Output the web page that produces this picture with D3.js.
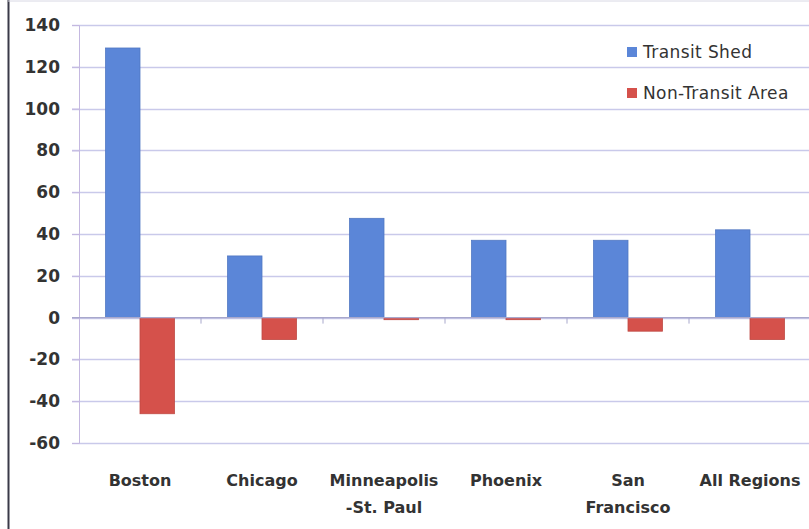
<!DOCTYPE html>
<html lang="en">
<head>
<meta charset="UTF-8">
<title>Transit Shed vs Non-Transit Area</title>
<style>
  body { margin: 0; background: #fff; }
  svg { display: block; }
  .tick text { font-family: "DejaVu Sans", sans-serif; }
</style>
</head>
<body>
<script src="https://d3js.org/d3.v7.min.js"></script>
<script>
  // data
  let regions = ["Boston", "Chicago", "Minneapolis\n-St. Paul", "Phoenix", "San\nFrancisco", "All Regions"];
  let seriesNames = ["Transit Shed", "Non-Transit Area"];
  let transitShed = [129, 29.5, 47.5, 37, 37, 42];
  let nonTransit = [-46, -10.5, -1, -1, -6.5, -10.5];
  let yTicks = [-60, -40, -20, 0, 20, 40, 60, 80, 100, 120, 140];
  let colors = ["#5b86d8", "#d5514b"];

  let W = 809, H = 529;
  let m = { t: 25, b: 86, l: 79, r: -2 };

  let svg = d3.select('body').append('svg')
    .attr('width', W)
    .attr('height', H);

  // frame line on the left
  svg.append('line')
    .attr('x1', 8.5).attr('x2', 8.5).attr('y1', 0).attr('y2', H)
    .attr('stroke', '#3a3a48').attr('stroke-width', 2);
  svg.append('line')
    .attr('x1', 8).attr('x2', W).attr('y1', 1).attr('y2', 1)
    .attr('stroke', '#d8d8e4').attr('stroke-width', 1);

  let x = d3.scaleBand()
    .domain(regions)
    .range([m.l, W - m.r])
    .padding(0);

  let xs = d3.scaleBand()
    .domain(seriesNames)
    .range([0, x.bandwidth()])
    .paddingInner(0)
    .paddingOuter(0.77);

  let y = d3.scaleLinear()
    .domain([-60, 140])
    .range([H - m.b, m.t]);

  // gridlines
  svg.append('g')
    .selectAll('line')
    .data(yTicks)
    .enter().append('line')
    .attr('x1', m.l - 7)
    .attr('x2', W)
    .attr('y1', d => Math.round(y(d)) + 0.5)
    .attr('y2', d => Math.round(y(d)) + 0.5)
    .attr('stroke', '#c9c9ea')
    .attr('stroke-width', 1.3);

  // y axis
  let yAxis = svg.append('g')
    .attr('transform', `translate(${m.l},0)`)
    .call(d3.axisLeft(y).tickValues(yTicks).tickFormat(d => String(d)).tickSize(7).tickPadding(12));
  yAxis.select('.domain').attr('stroke', '#c4b8e0');
  yAxis.selectAll('.tick line').attr('stroke', '#c4b8e0');
  yAxis.selectAll('.tick text')
    .attr('fill', '#333')
    .style('font-size', '17px')
    .style('font-weight', 'bold');

  // bars
  let data = [];
  regions.forEach((r, i) => {
    data.push({ region: r, series: seriesNames[0], value: transitShed[i] });
    data.push({ region: r, series: seriesNames[1], value: nonTransit[i] });
  });

  svg.append('g')
    .selectAll('rect')
    .data(data)
    .enter().append('rect')
    .attr('x', d => x(d.region) + xs(d.series))
    .attr('width', xs.bandwidth())
    .attr('y', d => y(Math.max(0, d.value)))
    .attr('height', d => Math.abs(y(d.value) - y(0)))
    .attr('fill', d => colors[seriesNames.indexOf(d.series)])
    .attr('stroke', d => d3.color(colors[seriesNames.indexOf(d.series)]).darker(0.3))
    .attr('stroke-width', 0.8);

  // zero axis with category ticks
  svg.append('line')
    .attr('x1', m.l - 7).attr('x2', W)
    .attr('y1', y(0)).attr('y2', y(0))
    .attr('stroke', '#a8a8cc').attr('stroke-width', 1.2);

  svg.append('g')
    .selectAll('line')
    .data(regions.slice(1))
    .enter().append('line')
    .attr('x1', d => x(d)).attr('x2', d => x(d))
    .attr('y1', y(0)).attr('y2', y(0) + 6)
    .attr('stroke', '#a8a8cc');

  // category labels
  let lbl = svg.append('g')
    .selectAll('text')
    .data(regions)
    .enter().append('text')
    .attr('x', d => x(d) + x.bandwidth() / 2)
    .attr('y', 486)
    .attr('text-anchor', 'middle')
    .style('font-family', '"DejaVu Sans", sans-serif')
    .style('font-size', '16px')
    .style('font-weight', 'bold')
    .attr('fill', '#333');

  lbl.selectAll('tspan')
    .data(d => d.split('\n').map(t => ({ t, x: x(d) + x.bandwidth() / 2 })))
    .enter().append('tspan')
    .attr('x', d => d.x)
    .attr('dy', (d, i) => i ? 27 : 0)
    .text(d => d.t);

  // legend
  let leg = svg.append('g')
    .selectAll('g')
    .data(seriesNames)
    .enter().append('g')
    .attr('transform', (d, i) => `translate(627,${47 + i * 41})`);

  leg.append('rect')
    .attr('width', 10).attr('height', 10)
    .attr('fill', (d, i) => colors[i]);

  leg.append('text')
    .attr('x', 16).attr('y', 11)
    .style('font-family', '"DejaVu Sans", sans-serif')
    .style('font-size', '17px')
    .style('letter-spacing', '0.4px')
    .attr('fill', '#333')
    .text(d => d);
</script>
</body>
</html>
